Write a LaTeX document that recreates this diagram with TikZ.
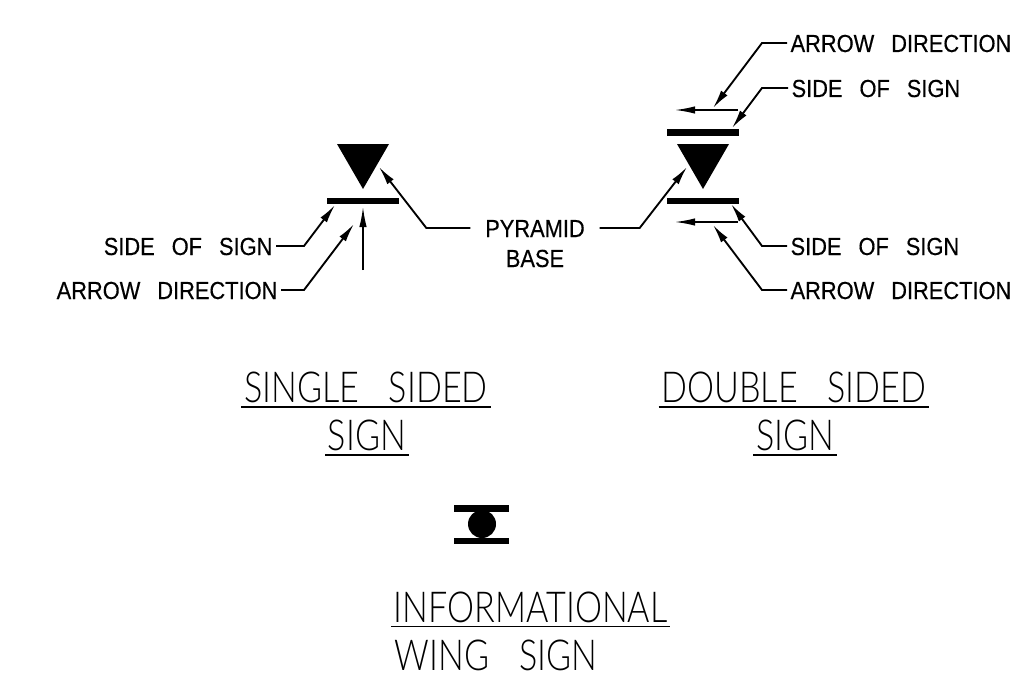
\documentclass[tikz,border=0pt]{standalone}
\usepackage{fontspec}
\setmainfont{Liberation Sans}
\newfontfamily\labelfont[FakeStretch=0.885,FakeBold=0.35,WordSpace=2.8]{Liberation Sans}
\newfontfamily\titlefont[FakeStretch=0.80,WordSpace=3.2]{Lato Light}
\usetikzlibrary{arrows.meta}
\tikzset{
    lbl/.style={font=\labelfont\fontsize{18.5}{20}\selectfont,inner ysep=0pt,inner xsep=2.5pt,text height=13.5pt,text depth=0pt},
    ttl/.style={font=\titlefont\fontsize{32}{34}\selectfont,inner xsep=2pt,inner ysep=3pt,text height=23pt,text depth=0pt},
    lead/.style={line width=1.4pt,-{Latex[length=14pt,width=6pt]}},
    thinarrow/.style={line width=1pt,-{Latex[length=15pt,width=5.5pt]}},
    bar/.style={line width=4.8pt},
    under/.style={line width=1.1pt},
}
\begin{document}
\begin{tikzpicture}[x=0.75pt,y=-0.75pt]
    \useasboundingbox (0,0) rectangle (1013,674);

    % single sided
    \fill (337,144) -- (389,144) -- (363,189) -- cycle;
    \draw[bar] (327,201) -- (399,201);
    \coordinate (upstart) at (363,270);
    \coordinate (uptip) at (363,207);
    \draw[thinarrow] (upstart) -- (uptip);

    % double sided
    \fill (677,144) -- (729,144) -- (703,189) -- cycle;
    \draw[bar] (667,132.5) -- (739,132.5);
    \draw[bar] (667,201) -- (739,201);
    \coordinate (topstart) at (738,110);
    \coordinate (toptip) at (675,110);
    \coordinate (botstart) at (738,222);
    \coordinate (bottip) at (675,222);
    \draw[thinarrow] (topstart) -- (toptip);
    \draw[thinarrow] (botstart) -- (bottip);

    % labels
    \node[lbl,anchor=east](sideL)at(276,246){SIDE OF SIGN};
    \node[lbl,anchor=east](dirL)at(281,290){ARROW DIRECTION};
    \node[lbl,anchor=west](dirTR)at(787,43){ARROW DIRECTION};
    \node[lbl,anchor=west](sideTR)at(788,88){SIDE OF SIGN};
    \node[lbl,anchor=west](sideBR)at(787,246){SIDE OF SIGN};
    \node[lbl,anchor=west](dirBR)at(787,290){ARROW DIRECTION};
    \node[lbl,inner xsep=11pt](pyr)at(535,228){PYRAMID};
    \node[lbl](base)at(535,258){BASE};

    % leaders
    \coordinate (sideLtip) at (335,205);
    \coordinate (dirLtip) at (354,224);
    \coordinate (pyrLtip) at (379,167);
    \coordinate (pyrRtip) at (687,167);
    \coordinate (dirTRtip) at (713,108);
    \coordinate (sideTRtip) at (732,128);
    \coordinate (sideBRtip) at (731,204);
    \coordinate (dirBRtip) at (713,225);
    \draw[lead](sideL.east)--++(28,0)--(sideLtip);
    \draw[lead](dirL.east)--++(23,0)--(dirLtip);
    \draw[lead](pyr.west)--++(-44,0)--(pyrLtip);
    \draw[lead](pyr.east)--++(40,0)--(pyrRtip);
    \draw[lead](dirTR.west)--++(-25,0)--(dirTRtip);
    \draw[lead](sideTR.west)--++(-26,0)--(sideTRtip);
    \draw[lead](sideBR.west)--++(-25,0)--(sideBRtip);
    \draw[lead](dirBR.west)--++(-25,0)--(dirBRtip);

    % titles
    \node[ttl](singleA)at(366,387.5){SINGLE SIDED};
    \node[ttl](singleB)at(367,435.5){SIGN};
    \node[ttl](doubleA)at(794,387.5){DOUBLE SIDED};
    \node[ttl](doubleB)at(795,435.5){SIGN};
    \node[ttl,anchor=west](infoA)at(391,607){INFORMATIONAL};
    \node[ttl,anchor=west,inner ysep=0pt](infoB)at(392,655){WING SIGN};
    \foreach \t in {singleA,singleB,doubleA,doubleB,infoA}
        \draw[under](\t.south west)--(\t.south east);

    % wing sign
    \draw[bar] (454,508.5) -- (509,508.5);
    \draw[bar] (454,541) -- (509,541);
    \fill (482,524) circle (14);
\end{tikzpicture}
\end{document}
